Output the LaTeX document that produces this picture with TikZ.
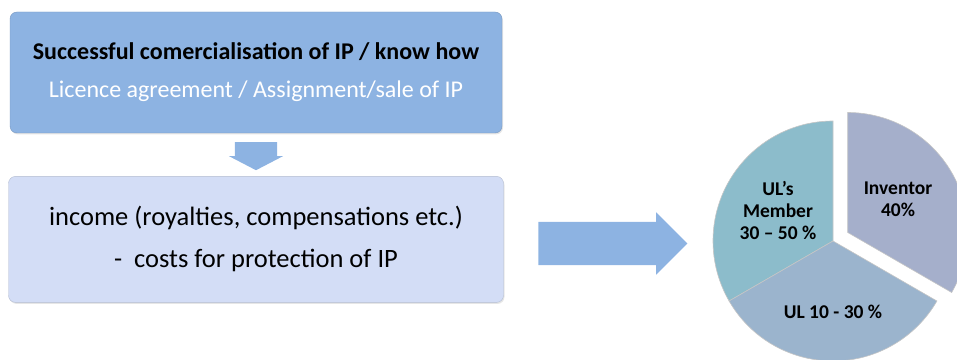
\documentclass[tikz,border=0pt]{standalone}
\usepackage{fontspec}
\setmainfont{Carlito}
\usetikzlibrary{positioning, calc, shapes.arrows, shadows}
\definecolor{topblue}{RGB}{141,179,226}
\definecolor{paleblue}{RGB}{211,221,246}
\definecolor{memberteal}{RGB}{140,188,203}
\definecolor{ulgrey}{RGB}{155,180,205}
\definecolor{inventorgrey}{RGB}{165,175,203}
\tikzset{
        box/.style={fill=#1, draw=#1!85!black, rounded corners=7pt, align=center,
          drop shadow={opacity=0.2, shadow xshift=1pt, shadow yshift=-1.5pt}}, % the two text boxes
        blockarrow/.style={single arrow, fill=topblue, draw=none}, % the fat arrows
        slice/.style={fill=#1, draw=white!55!gray, line width=0.6pt}, % pie pieces
        slicetext/.style={font=\fontsize{19.5}{22}\selectfont\bfseries, align=center},
}
\def\pieradius{120}

\begin{document}
\begin{tikzpicture}[x=1pt, y=1pt]
     \useasboundingbox (0,0) rectangle (957,359);
     \node[box=topblue, minimum width=492pt, minimum height=121pt,
       font=\fontsize{24}{38}\selectfont] (deal) at (256,286.5)
       {\bfseries Successful comercialisation of IP / know how\\
        \color{white}Licence agreement / Assignment/sale of IP};
     \node[box=paleblue, minimum width=495pt, minimum height=126pt, below=43pt of deal,
       font=\fontsize{26.5}{42}\selectfont] (income)
       {income (royalties, compensations etc.)\\
        -~~costs for protection of IP};
     \node[blockarrow, shape border rotate=270, minimum height=28pt, minimum width=54pt,
       inner xsep=21pt, inner ysep=0pt, single arrow head extend=6pt, single arrow tip angle=125,
       yshift=4pt] (down) at ($(deal.south)!0.5!(income.north)$) {};
     \node[blockarrow, minimum height=149pt, minimum width=62pt,
       inner xsep=0pt, inner ysep=21.5pt, single arrow head extend=9.5pt, single arrow tip angle=90]
       (right) at (602,115.5) {};
     % the pie, inventor piece pulled out
     \coordinate (pie) at (833,118);
     \coordinate (inv) at ($(pie)+(30:17)$);
     \draw[slice=memberteal] (pie) -- +(90:\pieradius) arc (90:210:\pieradius) -- cycle;
     \draw[slice=ulgrey] (pie) -- +(210:\pieradius) arc (210:330:\pieradius) -- cycle;
     \draw[slice=inventorgrey] (inv) -- +(330:\pieradius) arc (330:450:\pieradius) -- cycle;
     \node[slicetext] (member) at (778,149) {UL’s\\Member\\30 – 50 \%};
     \node[slicetext] (inventor) at (898,160) {Inventor\\40\%};
     \node[slicetext] (ul) at (833,47) {UL 10 - 30 \%};
\end{tikzpicture}
\end{document}
